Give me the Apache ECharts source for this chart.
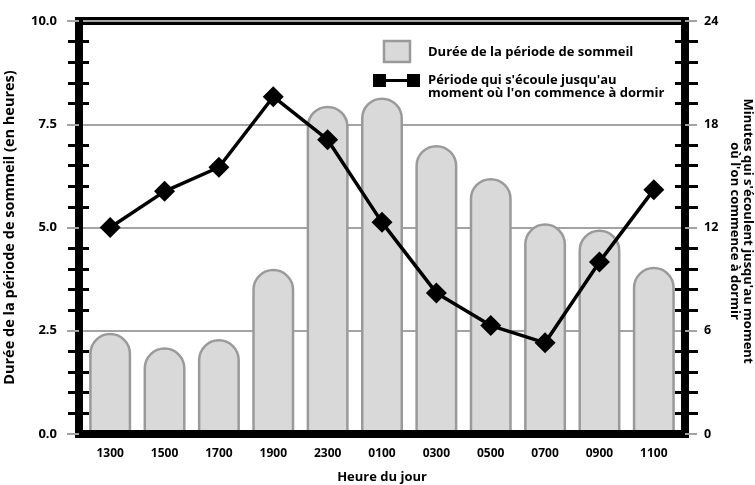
<!DOCTYPE html>
<html>
<head>
<meta charset="utf-8">
<script src="https://cdn.jsdelivr.net/npm/echarts@6/dist/echarts.min.js"></script>
<style>
html,body{margin:0;padding:0;background:#fff;}
#chart{width:755px;height:485px;}
</style>
</head>
<body>
<div id="chart"></div>
<script>
var categories = ['1300','1500','1700','1900','2300','0100','0300','0500','0700','0900','1100'];
var sleepHours = [2.45, 2.1, 2.3, 4.0, 7.95, 8.15, 7.0, 6.2, 5.1, 4.95, 4.05];
var latencyMinutes = [12.0, 14.1, 15.5, 19.6, 17.1, 12.3, 8.2, 6.3, 5.3, 10.0, 14.2];
var leftTicks = ['0.0','2.5','5.0','7.5','10.0'];
var rightTicks = ['0','6','12','18','24'];

var FONT = '"Open Sans", "DejaVu Sans", sans-serif';
var GRID_GRAY = '#a3a3a3';
var chart = echarts.init(document.getElementById('chart'));

function overlayAxis(pos, max, interval, len) {
  return {
    gridIndex: 0, type: 'value', position: pos, min: 0, max: max, interval: interval, z: 10,
    axisLine: {show: false}, axisLabel: {show: false}, splitLine: {show: false},
    axisTick: {show: false, inside: true},
    minorTick: {show: true, splitNumber: 5, length: len, lineStyle: {color: '#000', width: 3}}
  };
}

var option = {
  backgroundColor: '#fff',
  animation: false,
  textStyle: {fontFamily: FONT},
  grid: [
    {left: 79, right: 70, top: 21, bottom: 51, outerBoundsMode: 'none', containLabel: false,
      show: true, borderColor: '#000', borderWidth: 8, backgroundColor: 'transparent'},
    {left: 83, right: 74, top: 21, bottom: 51, outerBoundsMode: 'none', containLabel: false}
  ],
  xAxis: [
    {
      gridIndex: 0, type: 'value', min: 0, max: 1, z: 10,
      axisLine: {show: true, onZero: false, lineStyle: {color: '#000', width: 8}},
      axisTick: {show: false}, axisLabel: {show: false}, splitLine: {show: false}
    },
    {
      gridIndex: 1, type: 'category', data: categories,
      name: 'Heure du jour', nameLocation: 'middle', nameGap: 37, nameMoveOverlap: false,
      nameTextStyle: {fontFamily: FONT, fontWeight: 'bold', fontSize: 13, color: '#000'},
      axisLine: {show: false},
      axisTick: {show: false},
      axisLabel: {fontFamily: FONT, fontWeight: 'bold', fontSize: 12, color: '#000', margin: 14}
    }
  ],
  yAxis: [
    {
      gridIndex: 0, type: 'value', position: 'left', min: 0, max: 10, interval: 2.5, z: 10,
      name: 'Durée de la période de sommeil (en heures)', nameLocation: 'middle', nameGap: 62, nameMoveOverlap: false,
      nameTextStyle: {fontFamily: FONT, fontWeight: 'bold', fontSize: 14.5, color: '#000'},
      axisLine: {show: true, lineStyle: {color: '#000', width: 8}},
      axisTick: {show: true, length: 12, lineStyle: {color: GRID_GRAY, width: 2}},
      minorTick: {show: true, splitNumber: 5, length: 11, lineStyle: {color: '#000', width: 3}},
      axisLabel: {fontFamily: FONT, fontWeight: 'bold', fontSize: 13, color: '#000', margin: 22,
        formatter: function (v) { return leftTicks[Math.round(v / 2.5)]; }},
      splitLine: {show: false}
    },
    {
      gridIndex: 0, type: 'value', position: 'right', min: 0, max: 24, interval: 6, z: 10,
      axisLine: {show: true, lineStyle: {color: '#000', width: 8}},
      axisTick: {show: true, length: 12, lineStyle: {color: GRID_GRAY, width: 2}},
      minorTick: {show: true, splitNumber: 5, length: 13, lineStyle: {color: '#000', width: 3}},
      axisLabel: {fontFamily: FONT, fontWeight: 'bold', fontSize: 12.5, color: '#000', margin: 19,
        formatter: function (v) { return rightTicks[Math.round(v / 6)]; }},
      splitLine: {show: false}
    },
    overlayAxis('left', 10, 2.5, 10),
    overlayAxis('right', 24, 6, 10),
    {
      gridIndex: 1, type: 'value', position: 'left', min: 0, max: 10, interval: 2.5, z: 0,
      axisLine: {show: false}, axisTick: {show: false}, axisLabel: {show: false},
      splitLine: {show: true, lineStyle: {color: GRID_GRAY, width: 2}}
    },
    {
      gridIndex: 1, type: 'value', position: 'right', min: 0, max: 24, interval: 6,
      axisLine: {show: false}, axisTick: {show: false}, axisLabel: {show: false}, splitLine: {show: false}
    }
  ],
  graphic: [
    {type: 'rect', shape: {x: 384, y: 41, width: 26, height: 21}, style: {fill: '#d9d9d9', stroke: '#9a9a9a', lineWidth: 2.5}, z: 100},
    {type: 'text', x: 428, y: 52, style: {text: 'Durée de la période de sommeil', fill: '#000', font: 'bold 13px ' + FONT, verticalAlign: 'middle'}, z: 100},
    {type: 'rect', shape: {x: 373, y: 74, width: 13, height: 13}, style: {fill: '#000'}, z: 100},
    {type: 'rect', shape: {x: 407, y: 74, width: 13, height: 13}, style: {fill: '#000'}, z: 100},
    {type: 'rect', shape: {x: 386, y: 79, width: 21, height: 3}, style: {fill: '#000'}, z: 100},
    {type: 'text', x: 428, y: 74, style: {text: "Période qui s'écoule jusqu'au\nmoment où l'on commence à dormir", fill: '#000', font: 'bold 13px ' + FONT, lineHeight: 13, verticalAlign: 'top'}, z: 100},
    {type: 'text', x: 741, y: 231, rotation: -Math.PI / 2,
      style: {text: "Minutes qui s'écoulent jusqu'au moment\noù l'on commence à dormir", fill: '#000', font: 'bold 13px ' + FONT, lineHeight: 13, align: 'center', verticalAlign: 'middle'}, z: 100}
  ],
  series: [
    {
      name: 'Durée de la période de sommeil', type: 'bar', data: sleepHours, xAxisIndex: 1, yAxisIndex: 4,
      barWidth: 42,
      itemStyle: {color: '#d9d9d9', borderColor: '#9a9a9a', borderWidth: 2.5, borderRadius: [21, 21, 0, 0]},
      z: 2
    },
    {
      name: "Période qui s'écoule jusqu'au moment où l'on commence à dormir", type: 'line', data: latencyMinutes, xAxisIndex: 1, yAxisIndex: 5,
      symbol: 'diamond', symbolSize: 21,
      lineStyle: {color: '#000', width: 3.5},
      itemStyle: {color: '#000'},
      z: 5
    }
  ]
};
chart.setOption(option);
</script>
</body>
</html>
